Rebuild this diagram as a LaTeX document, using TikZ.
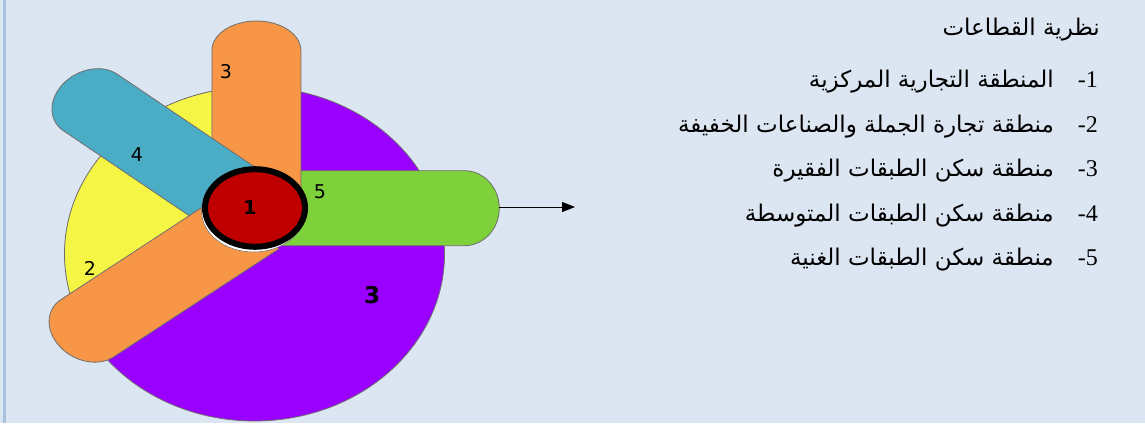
\documentclass[tikz,border=0pt]{standalone}
\usepackage{fontspec}
\setmainfont{Liberation Serif}
\newfontfamily\arabicfont[Script=Arabic]{DejaVu Sans}
\newfontfamily\labelfont{DejaVu Sans}
\TeXXeTstate=1
\usetikzlibrary{arrows.meta}
\definecolor{bg}{HTML}{DCE6F2}
\definecolor{frameline}{HTML}{A9C1E0}
\definecolor{edge}{HTML}{6E6E6E}
\definecolor{zorange}{HTML}{F79646}
\definecolor{zblue}{HTML}{4BACC6}
\definecolor{zgreen}{HTML}{7FD13B}
\definecolor{zpurple}{HTML}{9900FF}
\definecolor{zyellow}{HTML}{F5F545}
\definecolor{zred}{HTML}{C00000}
\newcommand\zbar[6]{%
  \begin{scope}[shift={(#1,#2)}, yscale=0.843, rotate=#3]
    \path[draw=edge, line width=0.8, fill=#6] (0,-#5) -- ({#4-35},-#5)
      arc[start angle=-90, end angle=90, x radius=35, y radius=#5] -- (0,#5) -- cycle;
  \end{scope}}
\tikzset{
  numlab/.style={font=\labelfont\fontsize{19}{19}\selectfont, inner sep=0pt},
  biglab/.style={font=\labelfont\bfseries\fontsize{19}{19}\selectfont, inner sep=0pt},
  arline/.style={anchor=base east, inner sep=0pt, font=\arabicfont\fontsize{23}{27}\selectfont},
  numline/.style={anchor=base east, inner sep=0pt, font=\fontsize{24}{28}\selectfont},
}
\begin{document}
\begin{tikzpicture}[x=1pt,y=1pt]
\useasboundingbox (0,0) rectangle (1145,423);
\fill[bg] (0,0) rectangle (1145,423);
\draw[frameline, line width=2.5] (4.5,0) -- (4.5,423);

% big pie ellipse
\fill[zpurple] (254.5,169) ellipse [x radius=190, y radius=167];
\begin{scope}
  \clip (256.4,205.3) -- (256.4,500) -- (-400,500) -- (-400,-224) -- cycle;
  \fill[zyellow] (254.5,169) ellipse [x radius=190, y radius=167];
\end{scope}
\draw[edge, line width=0.8] (254.5,169) ellipse [x radius=190, y radius=167];

% bars
\zbar{255}{214.8}{0}{244.3}{44.5}{zgreen}
\coordinate (greentip) at (499.3,216);
\coordinate (arrowend) at (575,216);
\draw[line width=0.9, -{Triangle[length=13pt, width=10pt]}] (greentip) -- (arrowend);
\zbar{256.4}{214}{90}{223}{44.5}{zorange}
\zbar{253.4}{210.4}{141.3}{244}{43}{zblue}
\zbar{252.4}{202.7}{217.8}{244}{43}{zorange}

% centre
\draw[edge, fill=white, line width=0.5] (253.5,212) ellipse [x radius=52, y radius=41];
\draw[black, fill=zred, line width=6] (255,215) ellipse [x radius=50, y radius=38.8];

% labels
\node[numlab] (l3) at (226,351) {3};
\node[numlab] (l4) at (137,268) {4};
\node[numlab] (l2) at (90,155) {2};
\node[numlab] (l5) at (320,231) {5};
\node[biglab] (l1) at (250,215) {1};
\node[biglab, font=\labelfont\bfseries\fontsize{23}{23}\selectfont] (lbig) at (372,128) {3};

% legend
\node[arline] (title) at (1100,387) {\beginR نظرية القطاعات\endR};
\node[numline] (n1) at (1098,335) {-1};
\node[arline] (t1) at (1054,335) {\beginR المنطقة التجارية المركزية\endR};
\node[numline] (n2) at (1098,290.5) {-2};
\node[arline] (t2) at (1054,290.5) {\beginR منطقة تجارة الجملة والصناعات الخفيفة\endR};
\node[numline] (n3) at (1098,246) {-3};
\node[arline] (t3) at (1054,246) {\beginR منطقة سكن الطبقات الفقيرة\endR};
\node[numline] (n4) at (1098,201.5) {-4};
\node[arline] (t4) at (1054,201.5) {\beginR منطقة سكن الطبقات المتوسطة\endR};
\node[numline] (n5) at (1098,157) {-5};
\node[arline] (t5) at (1054,157) {\beginR منطقة سكن الطبقات الغنية\endR};
\end{tikzpicture}
\end{document}
